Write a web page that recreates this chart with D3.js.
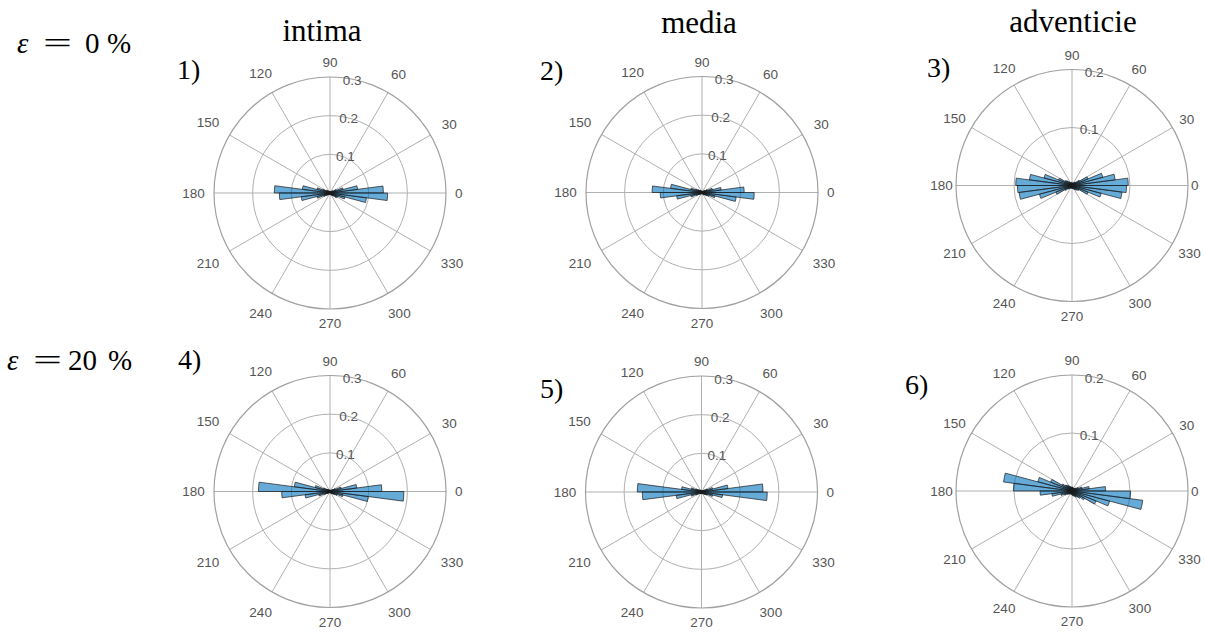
<!DOCTYPE html>
<html>
<head>
<meta charset="utf-8">
<script src="https://cdn.jsdelivr.net/npm/d3@7"></script>
<style>
  html, body { margin: 0; padding: 0; background: #fff; }
  svg { display: block; }
</style>
</head>
<body>
<svg id="chart" width="1205" height="632"></svg>
<script>
// ---- data ----
const binWidth = 7.5; // degrees, bin i covers [i*7.5, (i+1)*7.5]
const angleTicks = [0, 30, 60, 90, 120, 150, 180, 210, 240, 270, 300, 330];
const columnTitles = ["intima", "media", "adventicie"];
const rowLabels = ["0", "20"];
const panelNumbers = ["1)", "2)", "3)", "4)", "5)", "6)"];
const rTicksA = [0.1, 0.2, 0.3];
const rTicksB = [0.1, 0.2];

// relative frequency per bin (48 bins)
const intima0 = [0.138,0.072,0.035,0.018,0.010,0.008,0.006,0.005,0.004,0.004,0.003,0.004,
                 0.004,0.003,0.004,0.005,0.006,0.008,0.009,0.012,0.020,0.035,0.072,0.144,
                 0.131,0.075,0.035,0.018,0.011,0.008,0.006,0.005,0.004,0.003,0.004,0.003,
                 0.004,0.004,0.005,0.006,0.007,0.009,0.012,0.020,0.022,0.040,0.095,0.149];
const media0  = [0.109,0.050,0.028,0.015,0.009,0.007,0.005,0.004,0.004,0.003,0.003,0.004,
                 0.003,0.004,0.004,0.005,0.006,0.007,0.009,0.012,0.018,0.030,0.082,0.129,
                 0.108,0.066,0.030,0.016,0.010,0.007,0.005,0.004,0.004,0.003,0.003,0.004,
                 0.004,0.003,0.004,0.005,0.006,0.008,0.010,0.014,0.020,0.035,0.089,0.135];
const advent0 = [0.097,0.075,0.055,0.030,0.015,0.009,0.007,0.006,0.005,0.004,0.004,0.005,
                 0.004,0.005,0.005,0.006,0.007,0.009,0.012,0.014,0.025,0.050,0.074,0.097,
                 0.094,0.092,0.058,0.030,0.014,0.009,0.007,0.006,0.005,0.004,0.005,0.004,
                 0.005,0.005,0.006,0.007,0.008,0.010,0.012,0.014,0.030,0.052,0.087,0.094];
const intima20 = [0.134,0.070,0.030,0.015,0.009,0.006,0.005,0.004,0.004,0.003,0.003,0.004,
                  0.003,0.004,0.004,0.005,0.005,0.007,0.008,0.011,0.018,0.040,0.093,0.185,
                  0.125,0.065,0.030,0.016,0.010,0.007,0.005,0.004,0.004,0.003,0.003,0.004,
                  0.004,0.003,0.004,0.005,0.006,0.008,0.010,0.014,0.020,0.035,0.100,0.191];
const media20  = [0.159,0.069,0.030,0.015,0.009,0.006,0.005,0.004,0.003,0.003,0.003,0.004,
                  0.003,0.004,0.004,0.005,0.006,0.007,0.008,0.011,0.016,0.028,0.052,0.166,
                  0.153,0.066,0.028,0.015,0.009,0.006,0.005,0.004,0.004,0.003,0.003,0.004,
                  0.004,0.003,0.004,0.005,0.006,0.007,0.009,0.012,0.016,0.030,0.055,0.170];
const advent20 = [0.058,0.030,0.018,0.012,0.009,0.007,0.006,0.005,0.006,0.005,0.006,0.007,
                  0.006,0.007,0.008,0.009,0.011,0.013,0.015,0.020,0.040,0.061,0.119,0.101,
                  0.055,0.035,0.020,0.014,0.010,0.008,0.007,0.006,0.005,0.006,0.005,0.006,
                  0.007,0.008,0.009,0.010,0.012,0.014,0.018,0.025,0.045,0.067,0.123,0.101];

// ---- panel table built from the arrays ----
const panels = [
  {values: intima0,  rmax: 0.3, ticks: rTicksA, cx: 330,  cy: 193,   R: 116, gapH: 9, num: panelNumbers[0], nx: 177, ny: 79},
  {values: media0,   rmax: 0.3, ticks: rTicksA, cx: 702,  cy: 192.5, R: 116, gapH: 9, num: panelNumbers[1], nx: 540, ny: 80},
  {values: advent0,  rmax: 0.2, ticks: rTicksB, cx: 1072, cy: 185.5, R: 116, gapH: 3, num: panelNumbers[2], nx: 927, ny: 77},
  {values: intima20, rmax: 0.3, ticks: rTicksA, cx: 330,  cy: 491.5, R: 116, gapH: 9, num: panelNumbers[3], nx: 178, ny: 369},
  {values: media20,  rmax: 0.3, ticks: rTicksA, cx: 701.5,cy: 492,   R: 116, gapH: 9, num: panelNumbers[4], nx: 540, ny: 398},
  {values: advent20, rmax: 0.2, ticks: rTicksB, cx: 1072, cy: 491,   R: 116, gapH: 3, num: panelNumbers[5], nx: 905, ny: 394}
];

const svg = d3.select("#chart");
const rad = Math.PI / 180;
const labelFont = "'Liberation Sans', Arial, Helvetica, sans-serif";
const serif = "'Liberation Serif', 'Times New Roman', serif";

panels.forEach(p => {
  const g = svg.append("g").attr("transform", `translate(${p.cx},${p.cy})`);
  const r = d3.scaleLinear().domain([0, p.rmax]).range([0, p.R]);

  // grid circles (inner)
  g.selectAll("circle.grid").data(p.ticks.filter(t => t < p.rmax)).join("circle")
    .attr("class", "grid").attr("r", d => r(d))
    .attr("fill", "none").attr("stroke", "#b0b0b0").attr("stroke-width", 1);
  // spokes
  g.selectAll("line.spoke").data(angleTicks).join("line")
    .attr("x1", 0).attr("y1", 0)
    .attr("x2", d => r(p.rmax) * Math.cos(d * rad))
    .attr("y2", d => -r(p.rmax) * Math.sin(d * rad))
    .attr("stroke", "#b0b0b0").attr("stroke-width", 1);
  // outer circle
  g.append("circle").attr("r", r(p.rmax)).attr("fill", "none")
    .attr("stroke", "#a0a0a0").attr("stroke-width", 1.2);

  // bars
  const arc = d3.arc()
    .innerRadius(0)
    .outerRadius(d => r(d.v))
    .startAngle(d => (90 - (d.i + 1) * binWidth) * rad)
    .endAngle(d => (90 - d.i * binWidth) * rad);
  g.selectAll("path.bar").data(p.values.map((v, i) => ({v, i}))).join("path")
    .attr("class", "bar")
    .attr("d", arc)
    .attr("fill", "#0072BD").attr("fill-opacity", 0.6)
    .attr("stroke", "#1a1a1a").attr("stroke-width", 0.7);

  // angle labels
  const labR = d => {
    const hw = String(d).length * 3.8;
    const c = Math.abs(Math.cos(d * rad)), s = Math.abs(Math.sin(d * rad));
    return p.R + p.gapH * c + 9 * s + hw * c + 5.5 * s;
  };
  g.selectAll("text.ang").data(angleTicks).join("text")
    .attr("class", "ang")
    .attr("x", d => labR(d) * Math.cos(d * rad))
    .attr("y", d => -labR(d) * Math.sin(d * rad))
    .attr("dy", "0.36em")
    .attr("text-anchor", "middle")
    .attr("font-family", labelFont).attr("font-size", 13.5).attr("fill", "#555")
    .text(d => d);

  // radial tick labels
  g.selectAll("text.rt").data(p.ticks).join("text")
    .attr("class", "rt")
    .attr("x", d => 12 + r(d) * Math.cos(80 * rad) * 0.5)
    .attr("y", d => -r(d) * Math.sin(80 * rad) + 1)
    .attr("dy", "0.36em")
    .attr("text-anchor", "middle")
    .attr("font-family", labelFont).attr("font-size", 13.5).attr("fill", "#555")
    .text(d => d3.format(".1f")(d));

  // panel number
  svg.append("text").attr("x", p.nx).attr("y", p.ny)
    .attr("font-family", serif).attr("font-size", 28).attr("fill", "#000")
    .text(p.num);
});

// column titles
const titlePos = [{x: 322, y: 41}, {x: 699, y: 33}, {x: 1073, y: 32}];
svg.selectAll("text.coltitle").data(columnTitles).join("text")
  .attr("class", "coltitle")
  .attr("x", (d, i) => titlePos[i].x).attr("y", (d, i) => titlePos[i].y)
  .attr("text-anchor", "middle")
  .attr("font-family", serif).attr("font-size", 31).attr("fill", "#000")
  .text(d => d);

// row labels: ε = N %
const rowPos = [
  {base: 53,  eps: 17, eqx: 43, eqw: 29, num: 85, pct: 107},
  {base: 370, eps: 7,  eqx: 33, eqw: 29, num: 68, pct: 108}
];
rowLabels.forEach((lab, i) => {
  const rp = rowPos[i];
  svg.append("text").attr("x", rp.eps).attr("y", rp.base)
    .attr("font-family", serif).attr("font-size", 29).attr("font-style", "italic")
    .text("ε");
  svg.append("text").attr("x", rp.eqx).attr("y", rp.base)
    .attr("font-family", serif).attr("font-size", 29)
    .attr("textLength", rp.eqw).attr("lengthAdjust", "spacingAndGlyphs")
    .text("=");
  svg.append("text").attr("x", rp.num).attr("y", rp.base)
    .attr("font-family", serif).attr("font-size", 29)
    .text(lab);
  svg.append("text").attr("x", rp.pct).attr("y", rp.base)
    .attr("font-family", serif).attr("font-size", 29)
    .text("%");
});
</script>
</body>
</html>
